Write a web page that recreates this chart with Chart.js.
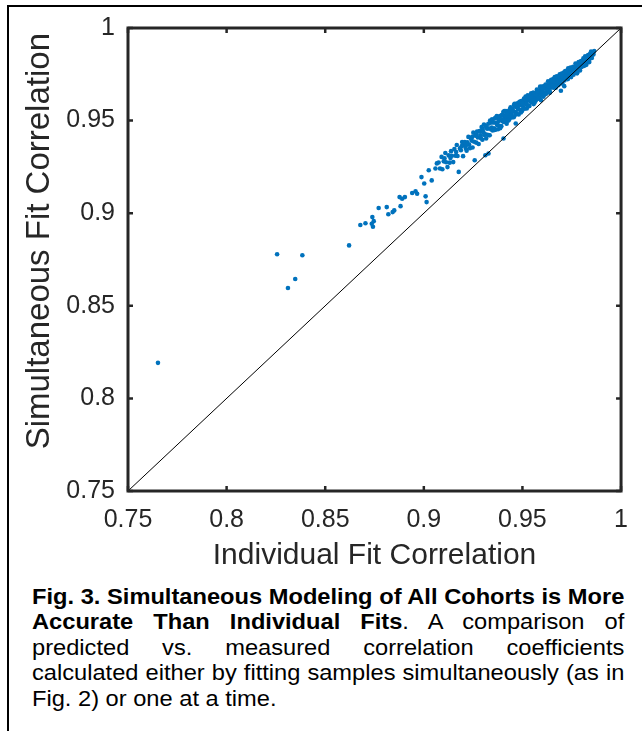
<!DOCTYPE html>
<html>
<head>
<meta charset="utf-8">
<script src="https://cdn.jsdelivr.net/npm/chart.js"></script>
<style>
  html, body { margin:0; padding:0; background:#fff; }
  body { width:642px; height:731px; position:relative; overflow:hidden; font-family:"Liberation Sans", Arial, Helvetica, sans-serif; }
  #frame { position:absolute; left:7px; top:5px; width:640px; height:730px; border-top:2px solid #000; border-left:2px solid #000; }
  #wrap { position:absolute; left:0; top:0; width:642px; height:580px; }
  #caption { position:absolute; left:32px; top:584px; width:551px; font-size:22px; line-height:25.4px; color:#000;
             transform:scaleX(1.075); transform-origin:0 0; }
  #caption div { text-align:justify; text-align-last:justify; }
  #caption div.last { text-align:left; text-align-last:left; }
</style>
</head>
<body>
<div id="frame"></div>
<div id="wrap"><canvas id="c" width="642" height="580"></canvas></div>
<div id="caption">
  <div><b>Fig. 3. Simultaneous Modeling of All Cohorts is More</b></div>
  <div><b>Accurate Than Individual Fits</b>. A comparison of</div>
  <div>predicted vs. measured correlation coefficients</div>
  <div>calculated either by fitting samples simultaneously (as in</div>
  <div class="last">Fig. 2) or one at a time.</div>
</div>
<script>
// ---- tick values and labels ----
const tickValues = [0.75, 0.8, 0.85, 0.9, 0.95, 1];
const tickLabels = ['0.75', '0.8', '0.85', '0.9', '0.95', '1'];
const xTitle = 'Individual Fit Correlation';
const yTitle = 'Simultaneous Fit Correlation';

// ---- identity reference line ----
const diagX = [0.75, 1];
const diagY = [0.75, 1];

// ---- individual fit correlation (x) ----
const individualFit = [
  // sparse tail
  0.7652,0.8256,0.8384,0.8348,0.8311,0.8621,0.8678,0.8704,0.8739,0.8746,0.8736,0.8742,0.8771,0.8812,0.8820,0.8842,
  0.8850,0.8882,0.8877,0.8890,0.8904,0.8941,0.8958,0.8966,0.8988,0.9002,0.9009,0.9014,0.9025,0.9040,0.9059,0.9066,
  // 0.907 - 0.920
  0.9075,0.9082,0.9090,0.9094,0.9101,0.9109,0.9113,0.9120,0.9126,0.9131,0.9138,0.9142,0.9149,0.9155,0.9160,0.9167,
  0.9171,0.9177,0.9183,0.9188,0.9194,0.9199,0.9204,
  // 0.920 - 0.935
  0.9208,0.9213,0.9217,0.9221,0.9226,0.9230,0.9234,0.9239,0.9243,0.9247,0.9251,0.9255,0.9258,0.9262,0.9266,0.9270,
  0.9274,0.9278,0.9282,0.9286,0.9290,0.9293,0.9297,0.9301,0.9305,0.9309,0.9312,0.9316,0.9319,0.9323,0.9327,0.9331,
  0.9334,0.9338,0.9342,0.9346,0.9349,0.9328,
  // 0.935 - 0.950
  0.9353,0.9356,0.9360,0.9363,0.9366,0.9370,0.9373,0.9376,0.9380,0.9383,0.9386,0.9390,0.9393,0.9396,0.9400,0.9403,
  0.9404,0.9406,0.9410,0.9413,0.9416,0.9420,0.9423,0.9426,0.9430,0.9433,0.9436,0.9440,0.9443,0.9446,0.9450,0.9453,
  0.9456,0.9460,0.9463,0.9466,0.9468,0.9471,0.9474,0.9478,0.9481,0.9484,0.9488,0.9491,0.9494,0.9497,0.9500,
  // 0.950 - 0.965
  0.9503,0.9506,0.9508,0.9511,0.9514,0.9516,0.9519,0.9522,0.9525,0.9527,0.9530,0.9533,0.9535,0.9538,0.9541,0.9544,
  0.9546,0.9549,0.9552,0.9554,0.9557,0.9560,0.9563,0.9565,0.9568,0.9571,0.9573,0.9576,0.9579,0.9582,0.9584,0.9587,
  0.9590,0.9592,0.9594,0.9595,0.9598,0.9600,0.9603,0.9606,0.9609,0.9611,0.9614,0.9617,0.9619,0.9622,0.9625,0.9628,
  0.9630,0.9633,0.9636,0.9638,0.9641,0.9644,0.9646,0.9649,
  // 0.965 - 0.980
  0.9652,0.9654,0.9657,0.9659,0.9662,0.9664,0.9667,0.9669,0.9672,0.9674,0.9677,0.9679,0.9682,0.9684,0.9687,0.9689,
  0.9692,0.9694,0.9695,0.9697,0.9699,0.9702,0.9704,0.9707,0.9709,0.9712,0.9713,0.9714,0.9717,0.9719,0.9722,0.9724,
  0.9727,0.9729,0.9732,0.9734,0.9737,0.9739,0.9742,0.9744,0.9747,0.9749,0.9752,0.9754,0.9757,0.9759,0.9762,0.9764,
  0.9767,0.9769,0.9772,0.9774,0.9777,0.9779,0.9782,0.9783,0.9785,0.9787,0.9790,0.9792,0.9795,0.9797,0.9800,
  // 0.980 - 0.987
  0.9803,0.9806,0.9809,0.9812,0.9815,0.9818,0.9821,0.9824,0.9827,0.9830,0.9833,0.9836,0.9839,0.9842,0.9845,0.9848,
  0.9852,0.9856,0.9860,0.9864,
  // second pass through the band
  0.9105,0.9135,0.9164,0.9192,0.9215,0.9245,0.9268,0.9288,0.9299,
  0.9307,0.9314,0.9321,0.9329,0.9336,0.9344,0.9351,0.9358,0.9365,0.9372,0.9379,0.9387,0.9394,0.9401,0.9408,0.9415,
  0.9422,0.9429,0.9436,0.9443,0.9450,0.9457,0.9464,0.9471,0.9478,0.9485,0.9492,0.9499,0.9506,0.9513,0.9520,0.9527,
  0.9534,0.9541,0.9548,0.9555,0.9562,0.9569,0.9576,0.9583,0.9590,0.9597,0.9604,0.9611,0.9618,0.9625,0.9632,0.9639,
  0.9646,0.9653,0.9660,0.9667,0.9674,0.9681,0.9688,0.9695,0.9702,0.9709,0.9716,0.9723,0.9730,0.9737,0.9744,0.9751,
  0.9758,0.9765,0.9772,0.9779,0.9786,0.9793,0.9800,0.9807,0.9814,0.9821,0.9828,0.9835,0.9843,0.9850,0.9858
];

// ---- simultaneous fit correlation (y) ----
const simultaneousFit = [
  0.8192,0.8778,0.8773,0.8645,0.8596,0.8826,0.8936,0.8946,0.8979,0.8957,0.8943,0.8927,0.9028,0.9033,0.8994,0.9006,
  0.9015,0.9038,0.9087,0.9078,0.9087,0.9109,0.9118,0.9105,0.9195,0.9160,0.9091,0.9060,0.9232,0.9177,0.9241,0.9269,
  0.9274,0.9241,0.9304,0.9237,0.9280,0.9325,0.9275,0.9249,0.9312,0.9273,0.9335,0.9310,0.9276,0.9346,0.9310,0.9368,
  0.9309,0.9223,0.9350,0.9340,0.9384,0.9308,0.9366,
  0.9384,0.9349,0.9337,0.9383,0.9412,0.9370,0.9351,0.9404,0.9391,0.9355,0.9435,0.9386,0.9286,0.9418,0.9381,0.9441,
  0.9409,0.9374,0.9443,0.9441,0.9405,0.9465,0.9397,0.9438,0.9479,0.9429,0.9313,0.9403,0.9463,0.9423,0.9483,0.9457,
  0.9421,0.9489,0.9452,0.9507,0.9447,0.9322,
  0.9491,0.9458,0.9512,0.9451,0.9487,0.9525,0.9479,0.9453,0.9508,0.9472,0.9525,0.9502,0.9470,0.9530,0.9497,0.9546,
  0.9403,0.9493,0.9525,0.9514,0.9552,0.9483,0.9533,0.9550,0.9517,0.9506,0.9547,0.9572,0.9534,0.9517,0.9564,0.9552,
  0.9518,0.9591,0.9546,0.9484,0.9574,0.9540,0.9594,0.9565,0.9533,0.9594,0.9584,0.9558,0.9606,0.9551,0.9583,
  0.9601,0.9572,0.9619,0.9564,0.9596,0.9630,0.9589,0.9565,0.9614,0.9581,0.9629,0.9609,0.9579,0.9632,0.9603,0.9647,
  0.9598,0.9627,0.9618,0.9650,0.9589,0.9634,0.9649,0.9619,0.9609,0.9646,0.9667,0.9634,0.9618,0.9659,0.9648,0.9619,
  0.9684,0.9643,0.9610,0.9665,0.9636,0.9684,0.9657,0.9629,0.9685,0.9674,0.9650,0.9694,0.9644,0.9673,0.9691,0.9669,
  0.9712,0.9657,0.9690,0.9650,0.9707,0.9677,0.9720,0.9692,
  0.9710,0.9684,0.9726,0.9677,0.9706,0.9735,0.9700,0.9678,0.9721,0.9693,0.9735,0.9717,0.9691,0.9737,0.9712,0.9750,
  0.9708,0.9733,0.9661,0.9725,0.9754,0.9700,0.9739,0.9752,0.9725,0.9686,0.9717,0.9750,0.9768,0.9739,0.9725,0.9761,
  0.9752,0.9725,0.9782,0.9747,0.9767,0.9740,0.9783,0.9759,0.9735,0.9782,0.9775,0.9753,0.9791,0.9748,0.9774,0.9788,
  0.9770,0.9808,0.9759,0.9788,0.9755,0.9804,0.9778,0.9809,0.9816,0.9792,0.9807,0.9771,0.9808,0.9821,0.9790,
  0.9820,0.9798,0.9836,0.9795,0.9821,0.9847,0.9818,0.9801,0.9838,0.9815,0.9854,0.9839,0.9816,0.9859,0.9837,0.9873,
  0.9838,0.9865,0.9857,0.9876,
  0.9296,0.9298,0.9330,0.9362,0.9368,0.9412,0.9425,0.9420,0.9455,
  0.9422,0.9471,0.9456,0.9421,0.9500,0.9462,0.9490,0.9449,0.9516,0.9476,0.9498,0.9459,0.9527,0.9507,0.9551,0.9499,
  0.9537,0.9500,0.9561,0.9526,0.9549,0.9584,0.9531,0.9578,0.9560,0.9601,0.9544,0.9592,0.9567,0.9615,0.9594,0.9637,
  0.9579,0.9623,0.9606,0.9650,0.9598,0.9639,0.9657,0.9622,0.9680,0.9649,0.9674,0.9639,0.9692,0.9666,0.9683,0.9657,
  0.9716,0.9688,0.9714,0.9686,0.9739,0.9712,0.9737,0.9702,0.9739,0.9759,0.9728,0.9765,0.9724,0.9757,0.9787,0.9750,
  0.9783,0.9771,0.9802,0.9764,0.9799,0.9786,0.9822,0.9808,0.9827,0.9806,0.9835,0.9827,0.9857,0.9846,0.9863
];

const TEXT = '#262626';
const FONT = '"Liberation Sans", Arial, Helvetica, sans-serif';

const scatterData = individualFit.map((v, i) => ({ x: v, y: simultaneousFit[i] }));
const diagData = diagX.map((v, i) => ({ x: v, y: diagY[i] }));

const boxPlugin = {
  id: 'box',
  afterDatasetsDraw(chart) {
    const { ctx, chartArea: a, scales } = chart;
    const xs = scales.x, ys = scales.y;
    ctx.save();
    ctx.strokeStyle = TEXT;
    ctx.lineWidth = 2.5;
    ctx.beginPath();
    const tl = 5;
    xs.ticks.forEach(t => {
      const p = xs.getPixelForValue(t.value);
      ctx.moveTo(p, a.bottom); ctx.lineTo(p, a.bottom - tl);
      ctx.moveTo(p, a.top); ctx.lineTo(p, a.top + tl);
    });
    ys.ticks.forEach(t => {
      const p = ys.getPixelForValue(t.value);
      ctx.moveTo(a.left, p); ctx.lineTo(a.left + tl, p);
      ctx.moveTo(a.right, p); ctx.lineTo(a.right - tl, p);
    });
    ctx.stroke();
    ctx.lineWidth = 3;
    ctx.strokeRect(a.left, a.top, a.right - a.left, a.bottom - a.top);
    ctx.restore();
  }
};

function setTicks(scale) { scale.ticks = tickValues.map(v => ({ value: v })); }

new Chart(document.getElementById('c'), {
  type: 'scatter',
  data: {
    datasets: [
      { type: 'line', data: diagData, borderColor: '#000', borderWidth: 1, pointRadius: 0, fill: false, tension: 0 },
      { data: scatterData, backgroundColor: '#0072BD', borderWidth: 0, pointRadius: 2.3, pointHoverRadius: 2.3 }
    ]
  },
  options: {
    responsive: false,
    animation: false,
    devicePixelRatio: 1,
    events: [],
    layout: { padding: { left: 0, top: 28, right: 19, bottom: 0 } },
    plugins: { legend: { display: false }, tooltip: { enabled: false } },
    scales: {
      x: {
        type: 'linear', min: 0.75, max: 1,
        afterBuildTicks: setTicks,
        afterFit(s) { s.height = 89; },
        grid: { display: false, drawTicks: false },
        border: { display: false },
        ticks: { color: TEXT, font: { family: FONT, size: 25 }, padding: 14, maxRotation: 0, autoSkip: false,
                 callback: (v, i) => tickLabels[i] },
        title: { display: true, text: xTitle, color: TEXT, font: { family: FONT, size: 30 }, padding: { top: 0, bottom: 6 } }
      },
      y: {
        type: 'linear', min: 0.75, max: 1,
        afterBuildTicks: setTicks,
        afterFit(s) { s.width = 128; },
        grid: { display: false, drawTicks: false },
        border: { display: false },
        ticks: { color: TEXT, font: { family: FONT, size: 25 }, padding: 13, autoSkip: false,
                 callback: (v, i) => tickLabels[i] },
        title: { display: true, text: '    ' + yTitle, color: TEXT, font: { family: FONT, size: 33 }, padding: { top: 20, bottom: 0 } }
      }
    }
  },
  plugins: [boxPlugin]
});
</script>
</body>
</html>
